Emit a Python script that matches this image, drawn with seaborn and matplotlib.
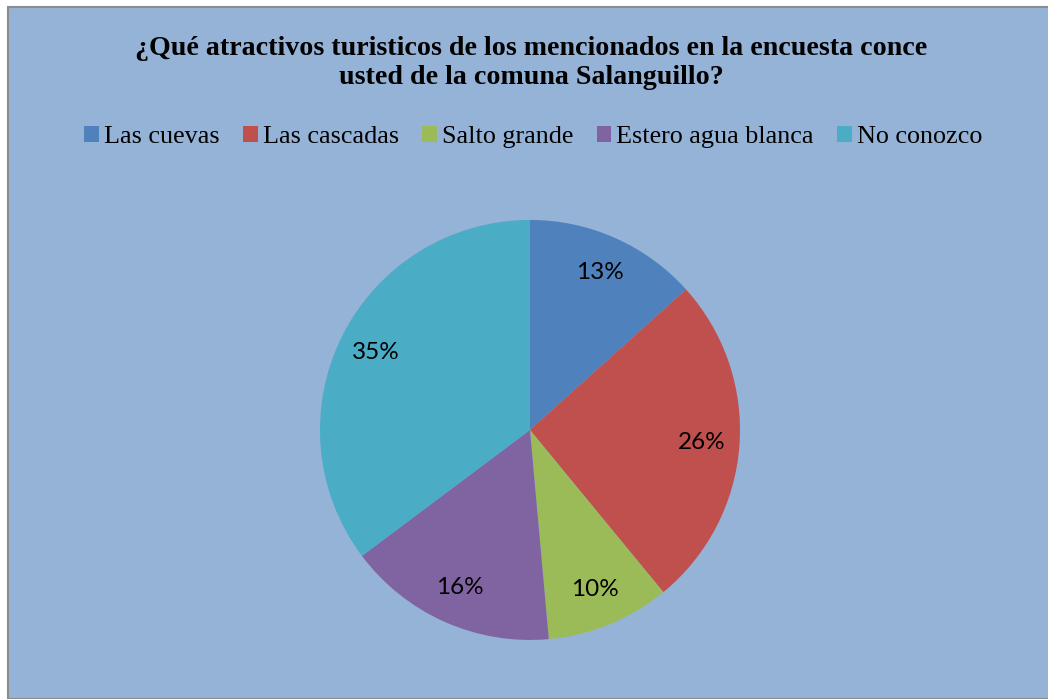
import matplotlib
matplotlib.use("Agg")
import matplotlib.pyplot as plt
import seaborn as sns
from matplotlib.patches import Rectangle, Patch

categories = ["Las cuevas", "Las cascadas", "Salto grande", "Estero agua blanca", "No conozco"]
counts = [14, 27, 10, 17, 37]
colors = ["#4F81BD", "#C0504D", "#9BBB59", "#8064A2", "#4BACC6"]
title = "¿Qué atractivos turisticos de los mencionados en la encuesta conce\nusted de la comuna Salanguillo?"

sns.set_theme(style="white")
palette = sns.color_palette(colors)

fig = plt.figure(figsize=(10.48, 6.99), dpi=100)
fig.patch.set_facecolor("white")

# chart area with gray frame
bg = Rectangle((8 / 1048, 0), 1.2, 1 - 7 / 699, transform=fig.transFigure,
               facecolor="#95B3D7", edgecolor="#8C8C8C", linewidth=1.5, zorder=-1)
fig.patches.append(bg)

ax = fig.add_axes([0.3053, 0.0844, 0.4008, 0.601])
ax.set_zorder(2)
ax.patch.set_alpha(0)
wedges, texts, autotexts = ax.pie(
    counts, colors=palette, startangle=90, counterclock=False,
    autopct="%1.0f%%", pctdistance=0.82, radius=1,
    wedgeprops=dict(linewidth=0),
    textprops=dict(fontsize=17.5, family="Lato", color="black"),
)
ax.set_aspect("equal")
ax.set_xlim(-1, 1)
ax.set_ylim(-1, 1)
ax.axis("off")

fig.text(0.507, 1 - 63 / 699, title, ha="center", va="center", color="black",
         fontsize=20.2, fontweight="bold", family="Liberation Serif", linespacing=1.25)

handles = [Patch(facecolor=c, edgecolor="none") for c in palette]
leg = fig.legend(handles, categories, loc="center", bbox_to_anchor=(0.509, 1 - 137 / 699),
                 ncol=5, frameon=False, prop=dict(family="Liberation Serif", size=18.8),
                 handlelength=0.55, handleheight=0.55, handletextpad=0.2, columnspacing=0.9)
for t in leg.get_texts():
    t.set_color("black")

fig.savefig("out.png", dpi=100, facecolor=fig.get_facecolor())
